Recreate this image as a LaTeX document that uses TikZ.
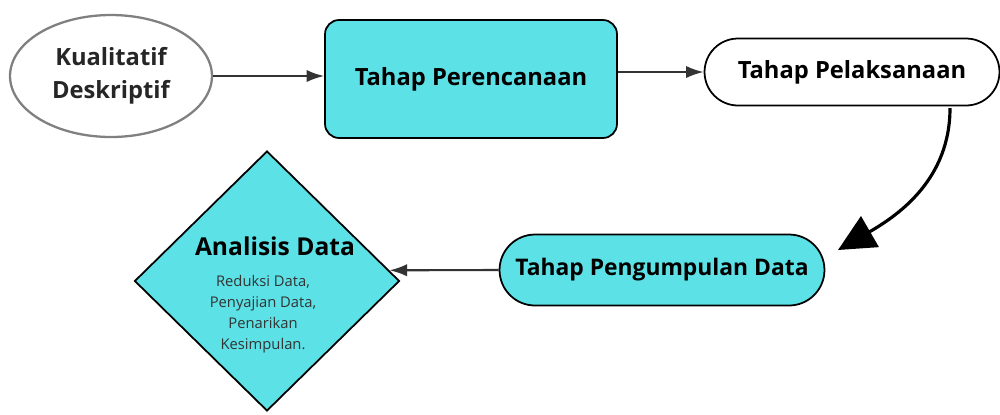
\documentclass[tikz,border=0pt]{standalone}
\usepackage{fontspec}
\setmainfont{Open Sans}
\usetikzlibrary{shapes.geometric,shapes.misc,arrows.meta}
\definecolor{tosca}{HTML}{5CE1E6}
\begin{document}
\begin{tikzpicture}[>={Latex[length=10pt, width=7pt]}, x=0.02cm, y=-0.02cm,
    box/.style={draw, line width=1pt, fill=tosca, font=\bfseries\fontsize{13.5}{16}\selectfont},
    pill/.style={box, rounded rectangle, inner sep=0pt},
    panah/.style={->, line width=1.2pt, draw=black!80}]
\useasboundingbox (0,0) rectangle (1000,414);
\node[ellipse, draw=black!50, line width=1.3pt, minimum width=4.04cm, minimum height=2.44cm, align=center, font=\bfseries\fontsize{13.5}{19}\selectfont, text=black!85](kual) at (111,76){Kualitatif\\Deskriptif};
\node[box, rounded corners=8pt, minimum width=5.84cm, minimum height=2.36cm](renc) at (471,79){Tahap Perencanaan};
\node[pill, fill=white, minimum width=5.9cm, minimum height=1.34cm](laks) at (852,72){Tahap Pelaksanaan};
\node[pill, minimum width=6.5cm, minimum height=1.42cm, font=\bfseries\fontsize{13}{16}\selectfont](kumpul) at (662,270){Tahap Pengumpulan Data};
\node[diamond, box, inner sep=0pt, minimum width=5.3cm, minimum height=5.2cm](analisis) at (267,281){};
\node[font=\bfseries\fontsize{14}{17}\selectfont](judul) at (275,246){Analisis Data};
\node[align=center, font=\fontsize{8.4}{12}\selectfont, text=black!80](isi) at (263,314){Reduksi Data,\\Penyajian Data,\\Penarikan\\Kesimpulan.};
\coordinate (c1) at (950,108);
\coordinate (c2) at (838,250);
\draw[panah](kual.east)--(kual.east -| renc.west);
\draw[panah](renc.east |- laks.west)--(laks.west);
\draw[panah](kumpul.west)--(analisis.5);
\draw[line width=1.8pt, -{Triangle[length=21pt, width=20pt]}](c1) to[out=-90, in=30] (c2);
\end{tikzpicture}
\end{document}
